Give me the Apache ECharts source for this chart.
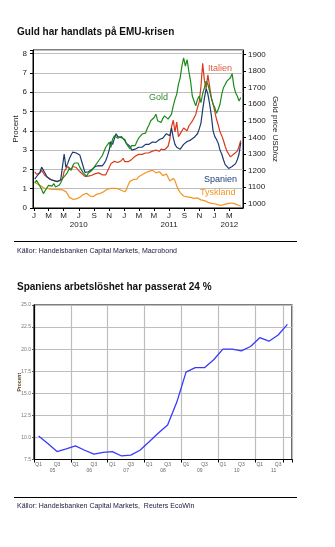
<!DOCTYPE html>
<html>
<head>
<meta charset="utf-8">
<script src="https://cdn.jsdelivr.net/npm/echarts@6/dist/echarts.min.js"></script>
<style>
  html, body { margin: 0; padding: 0; background: #fff; }
  #c { width: 335px; height: 547px; }
</style>
</head>
<body>
<div id="c"></div>
<script>
const FONT = '"Liberation Sans", Arial, sans-serif';

// ---- Chart 1: 2-year yields (%) and gold price (USD/oz), weekly from 4 Jan 2010 ----
const weekStart = [2010, 0, 4];

const tyskland = [
  1.32, 1.30, 1.22, 1.18, 1.12, 1.05, 1.00, 0.98, 1.00, 0.96,
  0.97, 0.99, 0.96, 0.98, 0.95, 0.97, 0.94, 0.93, 0.85, 0.72,
  0.55, 0.47, 0.45, 0.43, 0.47, 0.50, 0.55, 0.62, 0.70, 0.78,
  0.76, 0.68, 0.62, 0.58, 0.60, 0.66, 0.72, 0.75, 0.76, 0.80,
  0.85, 0.92, 0.98, 1.00, 1.02, 0.98, 1.02, 1.04, 1.00, 0.96,
  0.92, 0.88, 0.84, 0.96, 1.20, 1.38, 1.42, 1.48, 1.52, 1.50,
  1.62, 1.66, 1.72, 1.78, 1.83, 1.86, 1.90, 1.95, 1.96, 1.90,
  1.82, 1.80, 1.88, 1.85, 1.68, 1.72, 1.76, 1.60, 1.40, 1.50,
  1.53, 1.42, 1.15, 0.95, 0.80, 0.75, 0.62, 0.52, 0.58, 0.60,
  0.55, 0.58, 0.50, 0.46, 0.52, 0.48, 0.42, 0.40, 0.38, 0.34,
  0.30, 0.27, 0.24, 0.25, 0.22, 0.18, 0.16, 0.17, 0.14, 0.18,
  0.20, 0.22, 0.24, 0.22, 0.26, 0.24, 0.20, 0.18, 0.13, 0.10
];

const italien = [
  1.88, 1.75, 1.72, 1.82, 1.95, 1.92, 1.68, 1.62, 1.55, 1.48,
  1.45, 1.42, 1.40, 1.38, 1.40, 1.45, 1.50, 1.90, 1.95, 2.15,
  2.05, 1.98, 2.15, 2.22, 2.10, 1.98, 1.90, 1.80, 1.70, 1.64,
  1.62, 1.65, 1.62, 1.70, 1.74, 1.78, 1.76, 1.82, 1.80, 1.72,
  1.65, 1.72, 1.90, 2.10, 2.30, 2.38, 2.42, 2.40, 2.36, 2.32,
  2.45, 2.58, 2.40, 2.30, 2.40, 2.48, 2.52, 2.60, 2.68, 2.75,
  2.78, 2.74, 2.78, 2.82, 2.85, 2.80, 2.86, 2.92, 2.95, 2.98,
  3.00, 3.02, 2.94, 3.05, 3.12, 3.02, 3.08, 3.20, 3.55, 4.20,
  4.55, 3.95, 4.45, 3.70, 3.80, 4.00, 4.15, 4.10, 4.00, 4.25,
  4.35, 4.50, 4.60, 4.85, 5.20, 5.50, 6.30, 7.50, 6.60, 6.20,
  6.90, 6.30, 5.70, 5.40, 5.00, 4.60, 4.30, 3.95, 3.75, 3.50,
  3.20, 2.95, 2.80, 2.65, 2.70, 2.80, 2.75, 2.95, 3.20, 3.50
];

const spanien = [
  1.50, 1.62, 1.70, 1.85, 2.12, 2.05, 1.80, 1.62, 1.55, 1.48,
  1.45, 1.42, 1.38, 1.36, 1.40, 1.46, 1.55, 2.80, 2.10, 2.30,
  2.55, 2.75, 2.90, 3.00, 2.85, 2.95, 2.75, 2.45, 2.15, 1.85,
  1.80, 1.88, 1.95, 2.00, 2.05, 2.15, 2.25, 2.20, 2.15, 2.18,
  2.30, 2.45, 2.70, 3.00, 3.45, 3.30, 3.60, 3.85, 3.70, 3.62,
  3.65, 3.70, 3.55, 3.35, 3.45, 3.20, 3.00, 3.10, 3.05, 3.12,
  3.15, 3.20, 3.15, 3.22, 3.30, 3.35, 3.30, 3.38, 3.42, 3.45,
  3.40, 3.48, 3.55, 3.60, 3.62, 3.70, 3.85, 3.80, 3.75, 4.15,
  3.65, 3.30, 3.15, 3.10, 3.05, 3.15, 3.30, 3.35, 3.45, 3.50,
  3.52, 3.60, 3.65, 3.72, 3.85, 4.10, 4.40, 5.10, 5.70, 6.20,
  5.90, 5.40, 4.80, 4.00, 3.70, 3.55, 3.35, 3.00, 2.80, 2.50,
  2.25, 2.15, 2.05, 1.98, 2.15, 2.25, 2.30, 2.50, 2.80, 3.40
];

const guld = [
  1125, 1140, 1150, 1105, 1085, 1060, 1070, 1095, 1110, 1100,
  1105, 1120, 1100, 1095, 1110, 1125, 1150, 1155, 1175, 1190,
  1215, 1200, 1230, 1245, 1235, 1245, 1220, 1210, 1185, 1175,
  1165, 1185, 1195, 1200, 1215, 1230, 1245, 1250, 1275, 1290,
  1315, 1340, 1350, 1370, 1340, 1390, 1410, 1420, 1395, 1385,
  1405, 1415, 1380, 1360, 1345, 1330, 1350, 1360, 1350, 1375,
  1395, 1405, 1420, 1430, 1425, 1455, 1475, 1500, 1505, 1520,
  1540, 1500, 1505, 1490, 1515, 1530, 1540, 1510, 1500, 1540,
  1590, 1630, 1660, 1720, 1760, 1830, 1880, 1830, 1870, 1800,
  1740, 1650, 1620, 1590, 1630, 1650, 1610, 1665, 1700, 1740,
  1720, 1680, 1640, 1600, 1580, 1545, 1570, 1600, 1660, 1700,
  1720, 1740, 1730, 1760, 1785, 1710, 1670, 1650, 1620, 1640
];

const monthTicks = [
  '2010-01-01', '2010-03-01', '2010-05-01', '2010-07-01', '2010-09-01', '2010-11-01',
  '2011-01-01', '2011-03-01', '2011-05-01', '2011-07-01', '2011-09-01', '2011-11-01',
  '2012-01-01', '2012-03-01'
];
const monthLetters = ['J', 'M', 'M', 'J', 'S', 'N', 'J', 'M', 'M', 'J', 'S', 'N', 'J', 'M'];
const yearUnder = ['', '', '', '2010', '', '', '', '', '', '2011', '', '', '', '2012'];
const goldTicks = [1000, 1100, 1200, 1300, 1400, 1500, 1600, 1700, 1800, 1900];

// ---- Chart 2: Spanish unemployment rate (%), quarterly 2005-2011 ----
const quarters = [
  '05Q1', '05Q2', '05Q3', '05Q4', '06Q1', '06Q2', '06Q3', '06Q4',
  '07Q1', '07Q2', '07Q3', '07Q4', '08Q1', '08Q2', '08Q3', '08Q4',
  '09Q1', '09Q2', '09Q3', '09Q4', '10Q1', '10Q2', '10Q3', '10Q4',
  '11Q1', '11Q2', '11Q3', '11Q4'
];
const arbetsloshet = [
  10.15, 9.3, 8.4, 8.7, 9.05, 8.55, 8.1, 8.3,
  8.4, 7.9, 8.0, 8.55, 9.5, 10.5, 11.4, 14.0,
  17.4, 17.9, 17.9, 18.8, 20.0, 20.0, 19.8, 20.3,
  21.3, 20.9, 21.6, 22.8
];
const yearsShort = ['05', '06', '07', '08', '09', '10', '11'];

// ---- helpers ----
function day(s) {
  const p = s.split('-').map(Number);
  return new Date(p[0], p[1] - 1, p[2]).getTime();
}
const weekDates = guld.map((_, i) => new Date(weekStart[0], weekStart[1], weekStart[2] + 7 * i).getTime());
const monthTimes = monthTicks.map(day);
const pair = arr => arr.map((v, i) => [weekDates[i], v]);

function monthLabel(v) {
  const i = monthTimes.findIndex(t => Math.abs(t - v) < 43200000);
  if (i < 0) return '';
  return yearUnder[i] ? monthLetters[i] + '\n' + yearUnder[i] : monthLetters[i];
}

const GRID_GRAY = '#bdbdbd';
const chart = echarts.init(document.getElementById('c'), null, { renderer: 'canvas' });

chart.setOption({
  animation: false,
  backgroundColor: '#fff',
  textStyle: { fontFamily: FONT },
  grid: [
    { left: 33, top: 50, width: 210, height: 158, show: true, borderColor: '#000', borderWidth: 1, backgroundColor: 'transparent' },
    { left: 34, top: 305, width: 258, height: 154.5, show: true, borderColor: '#000', borderWidth: 1.2, backgroundColor: 'transparent' }
  ],
  xAxis: [
    {
      // calendar time in milliseconds on a linear scale
      type: 'value', gridIndex: 0,
      min: day('2009-12-28'), max: day('2012-04-25'),
      axisLine: { show: true, lineStyle: { color: '#000', width: 1 } },
      axisTick: { show: true, customValues: monthTimes, length: 3, lineStyle: { color: '#000' } },
      axisLabel: {
        customValues: monthTimes, formatter: monthLabel,
        fontSize: 8, lineHeight: 9, margin: 3.5, color: '#222', fontFamily: FONT
      },
      splitLine: { show: false }
    },
    {
      type: 'category', gridIndex: 1, data: quarters, boundaryGap: true,
      axisLine: { show: true, lineStyle: { color: '#000', width: 1.2 } },
      axisTick: { show: true, interval: 3, length: 3, lineStyle: { color: '#000' } },
      axisLabel: {
        interval: 0, fontSize: 5, color: '#666', margin: 3, fontFamily: FONT,
        formatter: v => (v.endsWith('Q1') || v.endsWith('Q3')) ? v.slice(2) : ''
      },
      splitLine: { show: true, interval: 3, lineStyle: { color: GRID_GRAY, width: 1.2 } }
    },
    {
      type: 'category', gridIndex: 1, data: yearsShort, boundaryGap: true,
      position: 'bottom', offset: 6,
      axisLine: { show: false }, axisTick: { show: false },
      axisLabel: { fontSize: 5, color: '#666', margin: 3, fontFamily: FONT },
      splitLine: { show: false }
    }
  ],
  yAxis: [
    {
      type: 'value', gridIndex: 0, min: 0, max: 8.19, interval: 1,
      axisLine: { show: true, lineStyle: { color: '#000', width: 1 } },
      axisTick: { show: true, length: 3, lineStyle: { color: '#000' } },
      axisLabel: {
        fontSize: 8, color: '#222', margin: 6, fontFamily: FONT,
        formatter: v => Number.isInteger(v) ? String(v) : ''
      },
      splitLine: { show: true, lineStyle: { color: GRID_GRAY, width: 1 } },
      name: 'Procent', nameLocation: 'middle', nameGap: 13, nameMoveOverlap: false,
      nameTextStyle: { fontSize: 8, color: '#222', fontFamily: FONT }
    },
    {
      type: 'value', gridIndex: 0, position: 'right', min: 972.8, max: 1928,
      axisLine: { show: true, lineStyle: { color: '#000', width: 1 } },
      axisTick: { show: true, customValues: goldTicks, length: 3, lineStyle: { color: '#000' } },
      axisLabel: {
        customValues: goldTicks, fontSize: 8, color: '#222', margin: 5, fontFamily: FONT,
        formatter: v => String(v)
      },
      splitLine: { show: false },
      name: 'Gold price USD/oz', nameLocation: 'middle', nameGap: 28, nameRotate: -90, nameMoveOverlap: false,
      nameTextStyle: { fontSize: 8, color: '#222', fontFamily: FONT }
    },
    {
      type: 'value', gridIndex: 1, min: 7.5, max: 25, interval: 2.5,
      axisLine: { show: true, lineStyle: { color: '#000', width: 1.2 } },
      axisTick: { show: true, length: 2, lineStyle: { color: '#555' } },
      axisLabel: { fontSize: 5, color: '#777', margin: 3, fontFamily: FONT, formatter: v => v.toFixed(1) },
      splitLine: { show: true, lineStyle: { color: GRID_GRAY, width: 1.2 } },
      name: 'Procent', nameLocation: 'middle', nameGap: 12, nameMoveOverlap: false,
      nameTextStyle: { fontSize: 5, color: '#5a4020', fontWeight: 'bold', fontFamily: FONT }
    }
  ],
  series: [
    { name: 'Tyskland', type: 'line', xAxisIndex: 0, yAxisIndex: 0, data: pair(tyskland),
      showSymbol: false, lineStyle: { color: '#f39420', width: 1.2 } },
    { name: 'Italien', type: 'line', xAxisIndex: 0, yAxisIndex: 0, data: pair(italien),
      showSymbol: false, lineStyle: { color: '#d63c1c', width: 1.2 } },
    { name: 'Spanien', type: 'line', xAxisIndex: 0, yAxisIndex: 0, data: pair(spanien),
      showSymbol: false, lineStyle: { color: '#1c3a70', width: 1.2 } },
    { name: 'Gold', type: 'line', xAxisIndex: 0, yAxisIndex: 1, data: pair(guld),
      showSymbol: false, lineStyle: { color: '#1e8a1e', width: 1.2 } },
    { name: 'Arbetslöshet', type: 'line', xAxisIndex: 1, yAxisIndex: 2, data: arbetsloshet,
      showSymbol: false, lineStyle: { color: '#3838ff', width: 1.3 } }
  ],
  graphic: [
    { type: 'text', x: 17, y: 32, style: { text: 'Guld har handlats på EMU-krisen', font: 'bold 10px ' + FONT, fill: '#111', verticalAlign: 'middle' } },
    { type: 'text', x: 149, y: 98, style: { text: 'Gold', font: '9px ' + FONT, fill: '#2e8b2e', verticalAlign: 'middle' } },
    { type: 'text', x: 208, y: 69, style: { text: 'Italien', font: '9px ' + FONT, fill: '#e05a3c', verticalAlign: 'middle' } },
    { type: 'text', x: 204, y: 180, style: { text: 'Spanien', font: '9px ' + FONT, fill: '#1f3d78', verticalAlign: 'middle' } },
    { type: 'text', x: 200, y: 193, style: { text: 'Tyskland', font: '9px ' + FONT, fill: '#f7941d', verticalAlign: 'middle' } },
    { type: 'line', shape: { x1: 14, y1: 241.5, x2: 297, y2: 241.5 }, style: { stroke: '#000', lineWidth: 1 } },
    { type: 'text', x: 17, y: 251.5, style: { text: 'Källor: Handelsbanken Capital Markets, Macrobond', font: '7px ' + FONT, fill: '#1a1a3a', verticalAlign: 'middle' } },
    { type: 'text', x: 17, y: 287, style: { text: 'Spaniens arbetslöshet har passerat 24 %', font: 'bold 10px ' + FONT, fill: '#111', verticalAlign: 'middle' } },
    { type: 'line', shape: { x1: 14, y1: 497.5, x2: 297, y2: 497.5 }, style: { stroke: '#000', lineWidth: 1 } },
    { type: 'text', x: 17, y: 506.5, style: { text: 'Källor: Handelsbanken Capital Markets,  Reuters EcoWin', font: '7px ' + FONT, fill: '#1a1a3a', verticalAlign: 'middle' } }
  ]
});
</script>
</body>
</html>
